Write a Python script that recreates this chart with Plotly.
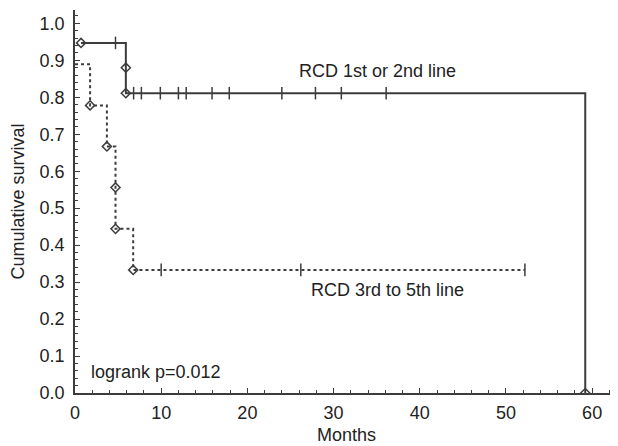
import plotly.graph_objects as go

# Group 1: RCD 1st or 2nd line (step curve)
g1_x = [0.7, 5.9, 59.2]
g1_y = [0.947, 0.811, 0.0]
g1_event_x = [0.7, 5.9, 5.9, 59.2]
g1_event_y = [0.947, 0.88, 0.811, 0.0]
g1_cens_x = [4.7, 6.8, 7.7, 9.9, 12.0, 12.9, 15.9, 17.9, 24.0, 27.9, 30.9, 36.1]
g1_cens_y = [0.947] + [0.811] * 11

# Group 2: RCD 3rd to 5th line
g2_x = [0.0, 1.75, 3.7, 4.7, 6.75, 52.2]
g2_y = [0.889, 0.778, 0.667, 0.444, 0.333, 0.333]
g2_event_x = [1.75, 3.7, 4.7, 4.7, 6.75]
g2_event_y = [0.778, 0.667, 0.556, 0.444, 0.333]
g2_cens_x = [10.0, 26.2, 52.2]
g2_cens_y = [0.333, 0.333, 0.333]

y_ticks = [0.0, 0.1, 0.2, 0.3, 0.4, 0.5, 0.6, 0.7, 0.8, 0.9, 1.0]
x_ticks = [0, 10, 20, 30, 40, 50, 60]

LC = "#3c3c3c"
FONT = "Liberation Sans, Arial, sans-serif"
FS = 18

fig = go.Figure()
fig.add_trace(go.Scatter(x=g1_x, y=g1_y, mode="lines", line=dict(color=LC, width=2, shape="hv"),
                         hoverinfo="skip"))
fig.add_trace(go.Scatter(x=g2_x, y=g2_y, mode="lines",
                         line=dict(color=LC, width=2, shape="hv", dash="3px,3px"), hoverinfo="skip"))
for cx, cy in [(g1_cens_x, g1_cens_y), (g2_cens_x, g2_cens_y)]:
    fig.add_trace(go.Scatter(x=cx, y=cy, mode="markers",
                             marker=dict(symbol="line-ns", size=9, line=dict(color=LC, width=1.5))))
for ex, ey in [(g1_event_x, g1_event_y), (g2_event_x, g2_event_y)]:
    fig.add_trace(go.Scatter(x=ex, y=ey, mode="markers",
                             marker=dict(symbol="diamond-open", size=7, color=LC, line=dict(width=1.5))))

fig.add_annotation(x=35.1, y=0.87, text="RCD 1st or 2nd line", showarrow=False,
                   xanchor="center", yanchor="middle", font=dict(size=FS, color="#222"))
fig.add_annotation(x=36.2, y=0.278, text="RCD 3rd to 5th line", showarrow=False,
                   xanchor="center", yanchor="middle", font=dict(size=FS, color="#222"))
fig.add_annotation(x=1.6, y=0.058, text="logrank p=0.012", showarrow=False,
                   xanchor="left", yanchor="middle", font=dict(size=FS, color="#222"))

# The page body has an 8px margin, so the figure is 8px smaller and margins are offset.
fig.update_layout(
    width=610, height=438,
    margin=dict(l=67, r=0, t=2, b=53),
    paper_bgcolor="white", plot_bgcolor="white",
    showlegend=False,
    font=dict(family=FONT, size=FS, color="#222"),
    xaxis=dict(range=[0, 63], tickvals=x_ticks, ticktext=[str(v) for v in x_ticks],
               showgrid=False, zeroline=False, showline=True, linecolor=LC, linewidth=1.5,
               ticks="inside", ticklen=5, tickcolor=LC, automargin=False, ticklabelstandoff=3,
               minor=dict(ticks="inside", dtick=2, ticklen=3, tickcolor=LC),
               title=dict(text="Months", font=dict(size=FS), standoff=6)),
    yaxis=dict(range=[0, 1.036], tickvals=y_ticks, ticktext=[f"{v:.1f}" for v in y_ticks],
               showgrid=False, zeroline=False, showline=True, linecolor=LC, linewidth=1.5,
               ticks="inside", ticklen=5, tickcolor=LC, automargin=False, ticklabelstandoff=5,
               minor=dict(ticks="inside", dtick=0.02, ticklen=3, tickcolor=LC),
               title=dict(text="Cumulative survival", font=dict(size=FS), standoff=15)),
)

fig.write_html("out.html")
